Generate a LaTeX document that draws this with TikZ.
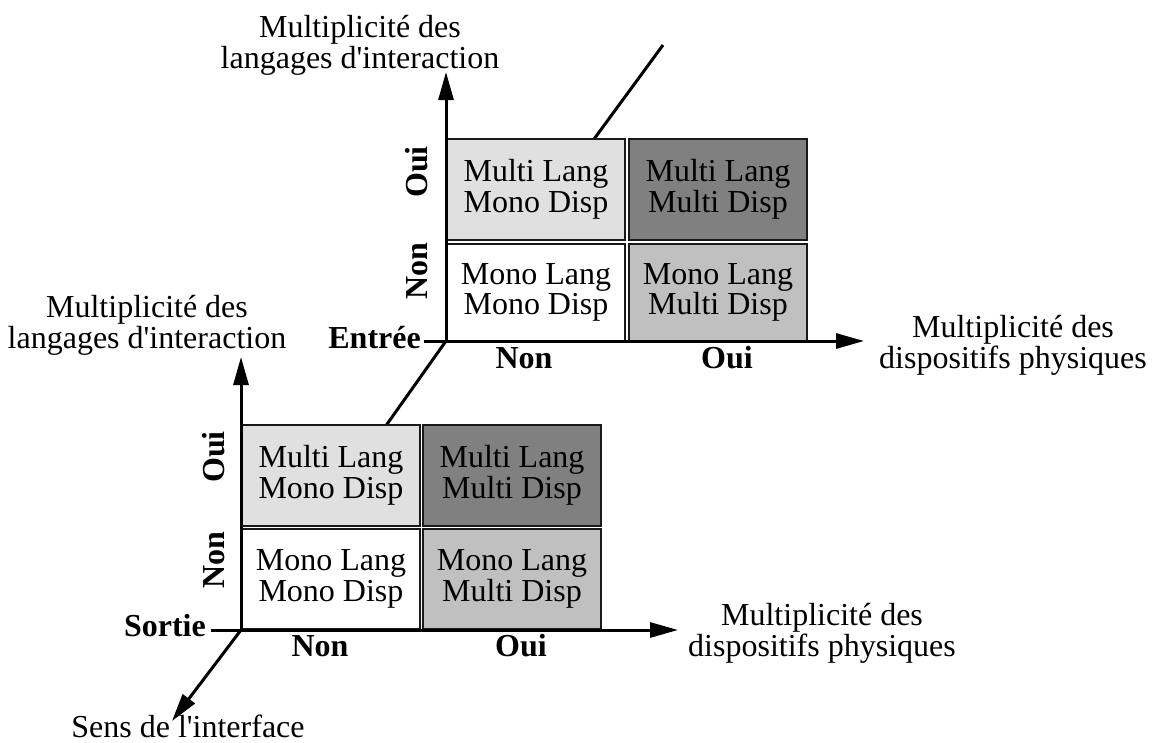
\documentclass[tikz,border=0pt]{standalone}
\usepackage{fontspec}
\setmainfont{Liberation Serif}
\usetikzlibrary{arrows.meta}
\newcommand\twoline[2]{\begin{tabular}[t]{@{}c@{}}#1\\#2\end{tabular}}
\newcommand\apos{\textquotesingle}
\definecolor{cLight}{HTML}{E0E0E0}
\definecolor{cMid}{HTML}{C0C0C0}
\definecolor{cDark}{HTML}{808080}
\begin{document}
\begin{tikzpicture}[x=1pt,y=-1pt,
  font=\fontsize{32}{30.5}\selectfont,
  cell/.style={draw=black!90, line width=2.5pt, inner sep=0pt, outer sep=0pt,
    align=center, minimum width=177.6pt},
  lbl/.style={inner sep=0pt, anchor=base},
  blbl/.style={inner sep=0pt, font=\fontsize{32}{30.5}\selectfont\bfseries},
  axis/.style={line width=3pt, -{Triangle[length=28pt,width=15pt]}},
  plain/.style={line width=3pt}]
\useasboundingbox (0,0) rectangle (1154,742);

% coordinates
\coordinate (o1) at (446,341);
\coordinate (o2) at (241,630);
\coordinate (dtop) at (663,45);
\coordinate (dtip) at (172,721);
\coordinate (u1) at (446,72);
\coordinate (u2) at (241,357);
\coordinate (r1) at (864,341);
\coordinate (r2) at (678,630);
\coordinate (et) at (424,341);
\coordinate (st) at (211,630);

% depth axis (behind the cells)
\draw[plain] (dtop) -- (o1) -- (o2);
\draw[axis] (o2) -- (dtip);

% white ground under the grids
\fill[white] (446,138) rectangle (808,341);
\fill[white] (241,424) rectangle (602,630);

% upper grid cells (Entree)
\node[cell, fill=cLight, minimum height=100.6pt] (eUL) at (536,189.5) {Multi Lang\\Mono Disp};
\node[cell, fill=cDark,  minimum height=100.6pt] (eUR) at (718,189.5) {Multi Lang\\Multi Disp};
\node[cell, fill=white,  minimum height=96.6pt]  (eLL) at (536,292.5) {Mono Lang\\Mono Disp};
\node[cell, fill=cMid,   minimum height=96.6pt]  (eLR) at (718,292.5) {Mono Lang\\Multi Disp};

% lower grid cells (Sortie)
\node[cell, fill=cLight, minimum height=100.6pt] (sUL) at (331,475.5) {Multi Lang\\Mono Disp};
\node[cell, fill=cDark,  minimum height=100.6pt] (sUR) at (512,475.5) {Multi Lang\\Multi Disp};
\node[cell, fill=white,  minimum height=99.6pt]  (sLL) at (331,579) {Mono Lang\\Mono Disp};
\node[cell, fill=cMid,   minimum height=99.6pt]  (sLR) at (512,579) {Mono Lang\\Multi Disp};

% axes
\draw[axis] (o1) -- (u1);
\draw[axis] (o1) -- (r1);
\draw[plain] (et) -- (o1);
\draw[axis] (o2) -- (u2);
\draw[axis] (o2) -- (r2);
\draw[plain] (st) -- (o2);

% axis titles
\node[lbl] (eLang) at (360,37) {\twoline{Multiplicit\'e des}{langages d\apos interaction}};
\node[lbl] (sLang) at (147,317) {\twoline{Multiplicit\'e des}{langages d\apos interaction}};
\node[lbl] (eDisp) at (1013,337) {\twoline{Multiplicit\'e des}{dispositifs physiques}};
\node[lbl] (sDisp) at (822,625) {\twoline{Multiplicit\'e des}{dispositifs physiques}};
\node[lbl] (sens) at (188,737) {Sens de l\apos interface};

% origin labels
\node[blbl, anchor=base east] (entree) at (421,348) {Entr\'ee};
\node[blbl, anchor=base east] (sortie) at (206,636) {Sortie};

% value labels
\node[blbl, rotate=90] (eOui) at (417,172) {Oui};
\node[blbl, rotate=90] (eNon) at (417,271) {Non};
\node[blbl, rotate=90] (sOui) at (214,457) {Oui};
\node[blbl, rotate=90] (sNon) at (214,560) {Non};
\node[blbl, anchor=base] (eNonX) at (524,368) {Non};
\node[blbl, anchor=base] (eOuiX) at (727,368) {Oui};
\node[blbl, anchor=base] (sNonX) at (320,656) {Non};
\node[blbl, anchor=base] (sOuiX) at (521,656) {Oui};
\end{tikzpicture}
\end{document}
